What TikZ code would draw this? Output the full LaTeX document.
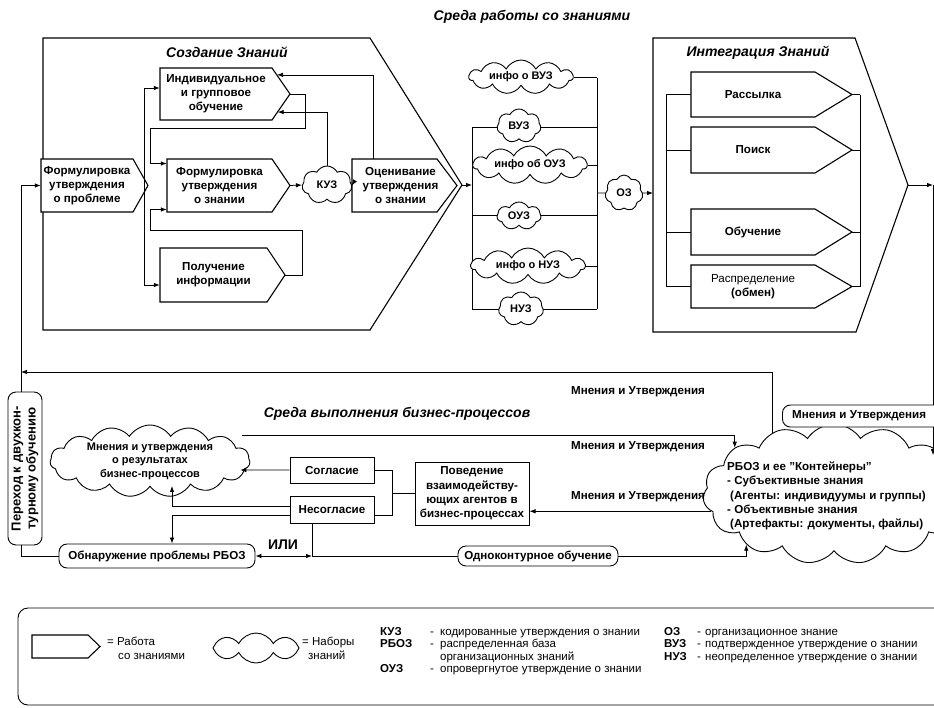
\documentclass[tikz,border=0pt]{standalone}
\usepackage{fontspec}
\setmainfont{Liberation Sans}
\usepackage{graphicx}
\usetikzlibrary{shapes.symbols,arrows.meta,calc}

\tikzset{
  shapeline/.style={line width=1.1pt, line join=miter},
  conn/.style={line width=0.75pt},
  arr/.style={conn, -{Latex[length=6pt,width=4.5pt]}},
  darr/.style={conn, {Latex[length=6pt,width=4.5pt]}-{Latex[length=6pt,width=4.5pt]}},
  lbl/.style={font=\fontsize{11.6}{14.2}\selectfont\bfseries, align=center, inner sep=0pt},
  clbl/.style={font=\fontsize{11}{13.5}\selectfont\bfseries, align=center, inner sep=0pt},
  ttl/.style={font=\fontsize{14}{16}\selectfont\bfseries\itshape, inner sep=0pt},
  cloudy/.style={cloud, cloud puffs=8, cloud puff arc=125, cloud ignores aspect,
                 draw, fill=white, line width=0.9pt, inner sep=0pt},
  rbox/.style={draw, fill=white, rectangle, rounded corners=8pt, line width=0.9pt, inner sep=0pt},
  sqbox/.style={draw, fill=white, rectangle, line width=1pt, inner sep=0pt},
  legtxt/.style={font=\fontsize{11.5}{13}\selectfont, inner sep=0pt, anchor=mid west},
  legabbr/.style={font=\fontsize{11.5}{13}\selectfont\bfseries, inner sep=0pt, anchor=mid west},
}

% knowledge-work box: [text shift], name, left, top, right of body, bottom, tip x, text
\newcommand{\workbox}[8][0]{%
  \draw[shapeline, fill=white] (#3,#4) -- (#5,#4) -- (#7,{(#4+#6)/2}) -- (#5,#6) -- (#3,#6) -- cycle;
  \node[lbl, minimum width={(#5-#3)*1pt}, minimum height={(#6-#4)*1pt}] (#2) at ({(#3+#5)/2},{(#4+#6)/2}) {};
  \node[lbl] (#2-t) at ($(#2.center)+(#1,0)$) {#8};
  \coordinate (#2-tip) at (#7,{(#4+#6)/2});
}

\begin{document}
\begin{tikzpicture}[x=1pt,y=-1pt]
\path[use as bounding box, fill=white] (0,0) rectangle (934,707);
\clip (0,0) rectangle (934,707);

\node[ttl] (title) at (532,17) {Среда работы со знаниями};

% ---------------- knowledge creation ----------------
\draw[shapeline] (43,38) -- (370,38) -- (462,185) -- (370,330) -- (43,330) -- cycle;
\coordinate (sz-tip) at (462,185);
\node[ttl] (sz-title) at (227,52) {Создание Знаний};

\workbox{ind}{160}{68}{272}{120}{290}{Индивидуальное\\и групповое\\обучение}
\workbox{fzn}{167}{159}{272}{212}{290}{Формулировка\\утверждения\\о знании}
\workbox{pol}{160}{248}{267}{302}{285}{Получение\\информации}
\workbox{prob}{41}{159}{133}{212}{148}{Формулировка\\утверждения\\о проблеме}
\workbox[6]{ocen}{352}{159}{437}{212}{457}{Оценивание\\утверждения\\о знании}

\node[cloudy, minimum width=50, minimum height=38, cloud puffs=7] (kuz) at (327,185) {};
\node[clbl] (kuz-t) at (kuz) {КУЗ};

\coordinate (pbus) at (144,185);
\draw[arr] (pbus) |- ($(ind.west)+(0,-6)$);
\draw[arr] (pbus) |- ($(pol.west)+(0,10)$);
\draw[arr] (ind-tip) -| (305,128) -- (150,128) |- ($(fzn.west)+(0,-22)$);
\draw[arr] (pol-tip) -| (302,230) -- (150,230) |- ($(fzn.west)+(0,24)$);
\draw[arr] (fzn-tip) -- (kuz.west);
\draw[arr] (kuz.north) |- ($(ind-tip)!0.69!(ind.south east)$);
\draw[arr] ($(ocen.north)+(-21.5,0)$) |- ($(ind-tip)!0.73!(ind.north east)$);
\draw[arr] (kuz.east) -- (ocen.west);

% ---------------- knowledge claim sets ----------------
\coordinate (busL) at (472,185);
\coordinate (busR) at (597,193);
\draw[arr] (sz-tip) -- (busL);
\draw[conn] (472,127) -- (472,309);
\draw[conn] (472,127) -- (597,127);
\draw[conn] (472,215) -- (597,215);
\draw[conn] (472,309) -- (597,309);
\draw[conn] (597,78) -- (597,309);

\node[cloudy, minimum width=104, minimum height=34, cloud puffs=11] (iv) at (521,77) {};
\node[clbl] (iv-t) at (iv) {инфо о ВУЗ};
\node[cloudy, minimum width=44, minimum height=34, cloud puffs=7] (vuz) at (519,126) {};
\node[clbl] (vuz-t) at (vuz) {ВУЗ};
\node[cloudy, minimum width=114, minimum height=38, cloud puffs=11] (io) at (530,165) {};
\node[clbl] (io-t) at (io) {инфо об ОУЗ};
\node[cloudy, minimum width=44, minimum height=28, cloud puffs=7] (ouz) at (519,216) {};
\node[clbl] (ouz-t) at (ouz) {ОУЗ};
\node[cloudy, minimum width=114, minimum height=36, cloud puffs=11] (in) at (528,266) {};
\node[clbl] (in-t) at (in) {инфо о НУЗ};
\node[cloudy, minimum width=45, minimum height=34, cloud puffs=7] (nuz) at (521,309) {};
\node[clbl] (nuz-t) at (nuz) {НУЗ};
\draw[conn] (iv.east) -- (iv.east -| busR);
\draw[conn] (io.east) -- (io.east -| busR);
\draw[conn] (in.east) -- (in.east -| busR);

\node[cloudy, minimum width=38, minimum height=36, cloud puffs=7] (oz) at (624,193) {};
\node[clbl] (oz-t) at (oz) {ОЗ};
\coordinate (int-in) at (653,193);
\draw[conn] (busR) -- (oz.west);
\draw[arr] (oz.east) -- (int-in);

% ---------------- knowledge integration ----------------
\draw[shapeline] (653,38) -- (855,38) -- (908,185) -- (856,332) -- (653,332) -- cycle;
\coordinate (int-tip) at (908,185);
\node[ttl] (int-title) at (758,53) {Интеграция Знаний};

\workbox{rass}{691}{72}{815}{117}{852}{Рассылка}
\workbox{poisk}{691}{127}{815}{173}{852}{Поиск}
\workbox{obuch}{691}{209}{815}{255}{852}{Обучение}
\workbox{raspr}{691}{265}{815}{308}{852}{\mdseries Распределение\\(обмен)}

\coordinate (ibusL) at (666,0);
\coordinate (ibusR) at (860,0);
\draw[conn] (rass.west -| ibusL) -- (raspr.west -| ibusL);
\draw[conn] (rass-tip -| ibusR) -- (raspr-tip -| ibusR);
\foreach \n in {rass,poisk,obuch,raspr}{
  \draw[conn] (\n.west -| ibusL) -- (\n.west);
  \draw[conn] (\n-tip) -- (\n-tip -| ibusR);
}

% ---------------- organisational knowledge base ----------------
\node[cloudy, minimum width=262, minimum height=140, cloud puffs=15, cloud puff arc=115] (rboz) at (834,494) {};
\node[lbl, align=left, anchor=west] (rboz-t) at (727,496) {РБОЗ и ее "Контейнеры"\\- Субъективные знания\\\hspace*{3pt}(Агенты: индивидуумы и группы)\\- Объективные знания\\\hspace*{3pt}(Артефакты: документы, файлы)};

\coordinate (redge) at (933,0);
\node[rbox, minimum width=180, minimum height=22, anchor=west] (mnr) at (782,416) {};
\node[lbl, anchor=west] (mnr-t) at (792,416) {Мнения и Утверждения};
\draw[arr] (int-tip) -- (int-tip -| redge);
\draw[conn] (int-tip -| redge) -- (mnr.north -| redge);
\draw[arr] (mnr.south -| redge) -- (redge |- rboz.20);

% ---------------- business process environment ----------------
\node[ttl] (bp-title) at (397,414) {Среда выполнения бизнес-процессов};

\node[rbox, minimum width=34, minimum height=153, font=\fontsize{13}{15}\selectfont\bfseries] (per) at (25,468.5)
  {\rotatebox{90}{\begin{tabular}{@{}c@{}}Переход к двухкон-\\турному обучению\end{tabular}}};
\coordinate (lx) at (21,0);
\coordinate (fb) at (21,372);
\draw[arr] (per.north -| lx) |- (prob.west);
\draw[arr] (rboz.135) |- (fb);
\node[lbl] (lab1) at (638,392) {Мнения и Утверждения};

\node[cloudy, minimum width=200, minimum height=72, cloud puffs=15, cloud puff arc=115] (mc) at (150,461) {};
\node[clbl] (mc-t) at (150,461) {Мнения и утверждения\\о результатах\\бизнес-процессов};
\draw[arr] ($(mc.east)+(-8,-26)$) -| (rboz.155);
\node[lbl] (lab2) at (638,447) {Мнения и Утверждения};

\node[sqbox, lbl, minimum width=84, minimum height=26] (sog) at (332,470) {Согласие};
\node[sqbox, lbl, minimum width=84, minimum height=27] (nes) at (332,509.5) {Несогласие};
\node[sqbox, lbl, minimum width=114, minimum height=63] (pov) at (472,493.5)
  {Поведение\\взаимодейству-\\ющих агентов в\\бизнес-процессах};

\node[rbox, lbl, minimum width=196, minimum height=24] (obn) at (157,556) {Обнаружение проблемы РБОЗ};
\node[rbox, lbl, minimum width=160, minimum height=20] (odn) at (538,556) {Одноконтурное обучение};

\draw[arr] (sog.west) -- ($(mc.east)+(-10,9)$);
\draw[arr] ($(nes.west)+(0,-3.5)$) -| ($(mc.south)+(22,-1)$);
\draw[arr] ($(nes.west)+(0,5.5)$) -| ($(obn.north)+(15,0)$);

\coordinate (jn) at (392,495);
\draw[conn] (sog.east) -- (sog.east -| jn) -- ($(nes.east -| jn)+(0,5.5)$) -- ($(nes.east)+(0,5.5)$);
\draw[conn] (pov.west -| jn) -- (pov.west);
\draw[arr] (rboz.188) -- (rboz.188 -| pov.east);
\node[lbl] (lab3) at (638,497) {Мнения и Утверждения};

\coordinate (jn2) at (312,556);
\draw[conn] (obn.west) -| (per.south -| lx);
\draw[conn] ($(nes.south)+(-20,0)$) -- (jn2);
\draw[darr] (obn.east) -- (jn2);
\draw[conn] (odn.west) -- (jn2);
\draw[arr] (odn.east) -| (rboz.210);
\node[lbl, font=\fontsize{14}{16}\selectfont\bfseries] (ili) at (283,545) {ИЛИ};

% ---------------- legend ----------------
\draw[line width=0.9pt, rounded corners=10pt] (18,608) rectangle (960,705);
\workbox{legw}{32}{635}{88}{658}{100}{}
\node[legtxt] (legw-t1) at (107,643) {= Работа};
\node[legtxt] (legw-t2) at (118,657) {со знаниями};
\node[cloudy, minimum width=86, minimum height=30] (legc) at (256,648) {};
\node[legtxt] (legc-t) at (302,643) {= Наборы};
\node[legtxt] (legc-t2) at (308,657) {знаний};

\node[legabbr] (a1) at (380,633) {КУЗ};
\node[legabbr] (a2) at (380,645) {РБОЗ};
\node[legabbr] (a3) at (380,670) {ОУЗ};
\node[legtxt] (d1) at (430,633) {-};
\node[legtxt] (d2) at (430,645) {-};
\node[legtxt] (d3) at (430,670) {-};
\node[legtxt] (t1) at (440,633) {кодированные утверждения о знании};
\node[legtxt] (t2) at (440,645) {распределенная база};
\node[legtxt] (t2b) at (440,658) {организационных знаний};
\node[legtxt] (t3) at (440,670) {опровергнутое утверждение о знании};

\node[legabbr] (b1) at (664,633) {ОЗ};
\node[legabbr] (b2) at (664,645) {ВУЗ};
\node[legabbr] (b3) at (664,658) {НУЗ};
\node[legtxt] (e1) at (697,633) {-};
\node[legtxt] (e2) at (697,645) {-};
\node[legtxt] (e3) at (697,658) {-};
\node[legtxt] (s1) at (705,633) {организационное знание};
\node[legtxt] (s2) at (705,645) {подтвержденное утверждение о знании};
\node[legtxt] (s3) at (705,658) {неопределенное утверждение о знании};
\end{tikzpicture}
\end{document}
